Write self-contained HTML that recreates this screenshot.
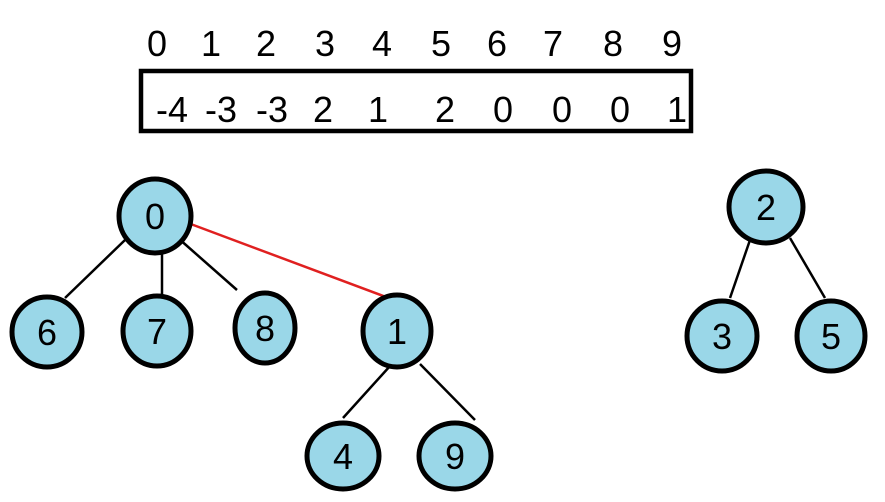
<!DOCTYPE html>
<html><head><style>
body{margin:0;background:#fff;width:885px;height:497px;overflow:hidden}
text{font-family:"Liberation Sans",sans-serif;font-size:36px;fill:#000}
</style></head><body>
<svg width="885" height="497" viewBox="0 0 885 497">
<g text-anchor="middle">
<text x="157" y="56">0</text><text x="211" y="56">1</text><text x="266" y="56">2</text><text x="325" y="56">3</text><text x="382" y="56">4</text><text x="441" y="56">5</text><text x="497" y="56">6</text><text x="553" y="56">7</text><text x="613" y="56">8</text><text x="672" y="56">9</text>
</g>
<rect x="141" y="71" width="550" height="60" fill="none" stroke="#000" stroke-width="4.5"/>
<g text-anchor="middle">
<text x="172" y="122">-4</text><text x="221" y="122">-3</text><text x="272" y="122">-3</text><text x="323" y="122">2</text><text x="378" y="122">1</text><text x="445" y="122">2</text><text x="503" y="122">0</text><text x="562" y="122">0</text><text x="620" y="122">0</text><text x="677" y="122">1</text>
</g>
<g stroke="#000" stroke-width="2.5">
<line x1="125" y1="240" x2="65" y2="298"/>
<line x1="162" y1="252" x2="162" y2="296"/>
<line x1="178" y1="238" x2="237" y2="290"/>
<line x1="390" y1="366" x2="343" y2="418"/>
<line x1="420" y1="364" x2="475" y2="420"/>
<line x1="750" y1="240" x2="730" y2="298"/>
<line x1="790" y1="238" x2="825" y2="298"/>
</g>
<line x1="180" y1="220" x2="386" y2="297" stroke="#e02020" stroke-width="2.5"/>
<g fill="#9ad7e8" stroke="#000" stroke-width="5">
<ellipse cx="155" cy="216" rx="36" ry="37"/>
<ellipse cx="47" cy="332" rx="35" ry="35"/>
<ellipse cx="157" cy="331" rx="34" ry="35"/>
<ellipse cx="265" cy="328" rx="30" ry="35"/>
<ellipse cx="397" cy="331" rx="34" ry="36"/>
<ellipse cx="343" cy="456" rx="36" ry="33"/>
<ellipse cx="455" cy="456" rx="36" ry="33"/>
<ellipse cx="766" cy="207" rx="37" ry="36"/>
<ellipse cx="722" cy="336" rx="35" ry="35"/>
<ellipse cx="831" cy="336" rx="34" ry="35"/>
</g>
<g text-anchor="middle">
<text x="155" y="229">0</text><text x="47" y="345">6</text><text x="157" y="344">7</text><text x="265" y="341">8</text><text x="397" y="344">1</text><text x="343" y="469">4</text><text x="455" y="469">9</text><text x="766" y="220">2</text><text x="722" y="349">3</text><text x="831" y="349">5</text>
</g>
</svg>
</body></html>
